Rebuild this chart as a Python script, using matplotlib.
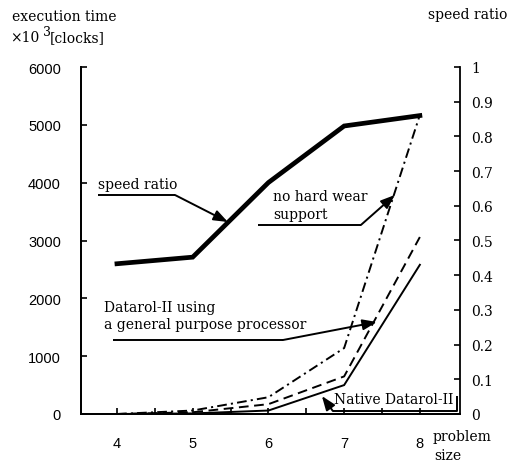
import matplotlib
matplotlib.use("Agg")
import matplotlib.pyplot as plt
from matplotlib.lines import Line2D

# ---- data ----
problem_size = [4, 5, 6, 7, 8]
native_datarol = [0, 10, 60, 500, 2580]
general_processor = [0, 30, 170, 650, 3060]
no_hw_support = [0, 60, 290, 1140, 5170]
speed_ratio = [0.433, 0.452, 0.667, 0.83, 0.86]

left_ticks = [0, 1000, 2000, 3000, 4000, 5000, 6000]
right_ticks = [0, 0.1, 0.2, 0.3, 0.4, 0.5, 0.6, 0.7, 0.8, 0.9, 1]
right_labels = ["0", "0.1", "0.2", "0.3", "0.4", "0.5", "0.6", "0.7", "0.8", "0.9", "1"]
x_ticks = [4, 5, 6, 7, 8]
x_minor = [4.5, 5.5, 6.5, 7.5]

plt.rcParams['lines.scale_dashes'] = False
SERIF = ['DejaVu Serif']
SANS = ['Liberation Sans', 'DejaVu Sans']
FS = 10

W, H = 507, 464
fig = plt.figure(figsize=(W / 100, H / 100), dpi=100)
ax = fig.add_axes([81 / W, 1 - 415 / H, (460 - 81) / W, (415 - 68) / H])
ax2 = ax.twinx()

lw = 1.4
ax.plot(problem_size, native_datarol, color='k', lw=lw, solid_joinstyle='miter')
ax.plot(problem_size, general_processor, color='k', lw=lw, linestyle=(0, (7, 4)))
ax.plot(problem_size, no_hw_support, color='k', lw=lw, linestyle=(0, (7, 3, 1.5, 3)))
ax2.plot(problem_size, speed_ratio, color='k', lw=3.4, solid_joinstyle='miter')

ax.set_xlim(3.525, 8.53)
ax.set_ylim(0, 6000)
ax2.set_ylim(0, 1)

ax.set_xticks(x_ticks)
ax.set_xticks(x_minor, minor=True)
ax.set_yticks(left_ticks)
ax2.set_yticks(right_ticks)
ax2.set_yticklabels(right_labels)

for a in (ax, ax2):
    a.spines['top'].set_visible(False)
    for s in a.spines.values():
        s.set_linewidth(1.3)
ax.spines['right'].set_visible(False)

ax.tick_params(axis='x', which='both', direction='in', length=4, width=1.2, pad=15.5)
ax.tick_params(axis='y', direction='in', length=4, width=1.2, pad=14.5)
ax2.tick_params(axis='y', direction='in', length=4, width=1.2, pad=8)
for lab in ax.get_xticklabels() + ax.get_yticklabels():
    lab.set_family(SANS)
    lab.set_fontsize(10.5)
for lab in ax2.get_yticklabels():
    lab.set_family(SERIF)
    lab.set_fontsize(FS)

# ---- titles ----
def ftext(px, py, s, fs=FS, **kw):
    fig.text(px / W, 1 - py / H, s, va='center', ha='left', family=SERIF, fontsize=fs, **kw)

ftext(12, 17, "execution time")
ftext(10, 38, "×10")
ftext(43, 33, "3", fs=9)
ftext(50, 38, "[clocks]")
ftext(428, 15, "speed ratio")
ftext(433, 437, "problem")
ftext(434, 456, "size")

# ---- annotations (data coordinates of left axis) ----
def leader(pts, tip):
    xs = [p[0] for p in pts]
    ys = [p[1] for p in pts]
    ax.add_line(Line2D(xs, ys, color='k', lw=1.4, solid_capstyle='butt', clip_on=False))
    ax.annotate("", xy=tip, xytext=pts[-1],
                arrowprops=dict(arrowstyle='-|>,head_length=0.85,head_width=0.32',
                                color='k', lw=1.4, shrinkA=0, shrinkB=0),
                annotation_clip=False)

def dtext(x, y, s):
    ax.text(x, y, s, ha='left', va='center', family=SERIF, fontsize=FS, clip_on=False)

dtext(3.749, 3977, "speed ratio")
leader([(3.749, 3787), (4.766, 3787)], (5.465, 3320))

dtext(6.059, 3769, "no hard wear")
dtext(6.059, 3458, "support")
leader([(5.861, 3268), (7.221, 3268)], (7.670, 3787))

dtext(3.828, 1850, "Datarol-II using")
dtext(3.828, 1556, "a general purpose processor")
leader([(3.947, 1279), (6.191, 1279)], (7.432, 1591))

dtext(6.87, 259, "Native Datarol-II")
leader([(8.488, 311), (8.488, 52), (6.851, 52)], (6.706, 311))

fig.savefig("out.png", dpi=100)
